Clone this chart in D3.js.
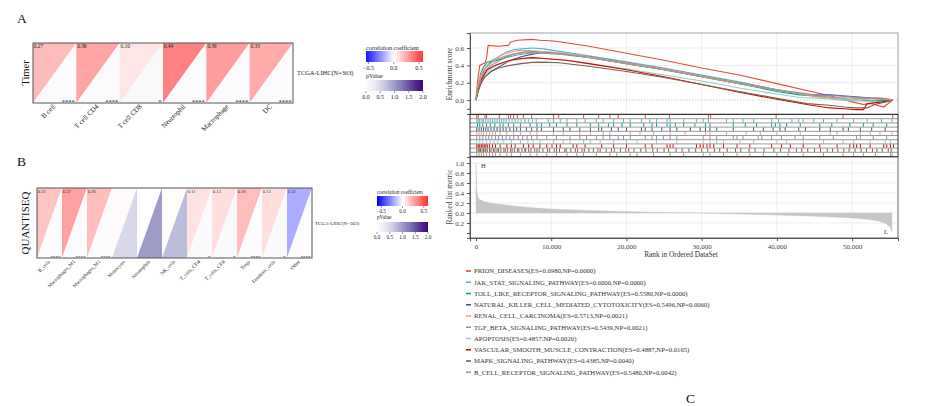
<!DOCTYPE html>
<html><head><meta charset="utf-8">
<script src="https://cdn.jsdelivr.net/npm/d3@7"></script>
<style>
body{margin:0;background:#fff}
svg{display:block}
text{font-family:"Liberation Serif","Times New Roman",serif}
</style>
</head><body>
<svg id="c" width="927" height="406"></svg>
<script>
// ---------- Panel A (TIMER) ----------
const timerCells = ["B cell","T cell CD4","T cell CD8","Neutrophil","Macrophage","DC"];
const timerCorr  = [0.27, 0.36, 0.10, 0.49, 0.39, 0.33];
const timerP     = [0.01, 0.01, 0.05, 0.01, 0.01, 0.01];
const timerStars = ["****","****","*","****","****","****"];

// ---------- Panel B (QUANTISEQ) ----------
const quantiCells = ["B_cells","Macrophages_M1","Macrophages_M2","Monocytes","Neutrophils","NK_cells","T_cells_CD4","T_cells_CD8","Tregs","Dendritic_cells","Other"];
const quantiCorr  = [0.23, 0.37, 0.26, 0.02, 0.00, 0.01, 0.11, 0.13, 0.26, 0.13, -0.32];
const quantiP     = [0.0, 0.0, 0.0, 0.5, 1.0, 0.75, 0.04, 0.03, 0.0, 0.03, 0.0];
const quantiStars = ["****","****","****","","","","*","*","****","*","****"];

const corrTicks = [-0.5, 0.0, 0.5];
const pTicks = [0.0, 0.5, 1.0, 1.5, 2.0];

// ---------- Panel C (GSEA) ----------
const pathways = ["PRION_DISEASES","JAK_STAT_SIGNALING_PATHWAY","TOLL_LIKE_RECEPTOR_SIGNALING_PATHWAY","NATURAL_KILLER_CELL_MEDIATED_CYTOTOXICITY","RENAL_CELL_CARCINOMA","TGF_BETA_SIGNALING_PATHWAY","APOPTOSIS","VASCULAR_SMOOTH_MUSCLE_CONTRACTION","MAPK_SIGNALING_PATHWAY","B_CELL_RECEPTOR_SIGNALING_PATHWAY"];
const pathwayES = [0.6980, 0.6000, 0.5580, 0.5496, 0.5713, 0.5439, 0.4857, 0.4887, 0.4385, 0.5480];
const pathwayNP = [0.0000, 0.0000, 0.0000, 0.0060, 0.0021, 0.0021, 0.0020, 0.0165, 0.0040, 0.0042];
const pathwayColors = ["#E64B35","#4DBBD5","#00A087","#3C5488","#F39B7F","#8491B4","#91D1C2","#DC0000","#7E6148","#B09C85"];

// running enrichment score: [rank (thousands), ES]
const esPrion = [[0,0],[0.1,0.12],[0.3,0.28],[0.5,0.4],[1.2,0.43],[1.4,0.48],[1.6,0.63],[3.0,0.62],[4.3,0.63],[4.6,0.67],[5.5,0.69],[7.4,0.70],[8.5,0.69],[10.3,0.68],[12,0.66],[15,0.62],[20,0.54],[25,0.46],[30,0.37],[35,0.29],[40,0.19],[44,0.11],[46,0.07],[48,0.03],[48.8,0.01],[50,-0.02],[51.5,-0.05],[52.5,-0.04],[54.2,-0.08],[55.4,0]];
const esJak = [[0,0],[0.2,0.15],[0.5,0.25],[1,0.33],[1.5,0.4],[2,0.45],[3,0.5],[4,0.55],[5,0.58],[6,0.59],[7.5,0.60],[9,0.59],[12,0.55],[15,0.51],[20,0.44],[25,0.37],[30,0.29],[35,0.21],[40,0.12],[45,0.05],[48,0.01],[50,-0.01],[52,0.0],[54,-0.02],[55.4,0]];
const esToll = [[0,0],[0.3,0.18],[0.6,0.3],[1,0.38],[1.5,0.44],[2.5,0.45],[3.5,0.48],[5,0.53],[6.5,0.555],[8,0.558],[10,0.545],[15,0.49],[20,0.42],[25,0.35],[30,0.27],[35,0.19],[40,0.1],[43,0.06],[45,0.05],[48,0.02],[50,0.0],[53,-0.01],[55.4,0]];
const esNk = [[0,0],[0.2,0.08],[0.5,0.17],[1,0.25],[2,0.33],[3,0.38],[4,0.43],[5,0.47],[6,0.5],[7.5,0.53],[9,0.55],[11,0.54],[15,0.5],[20,0.43],[25,0.36],[30,0.28],[35,0.2],[40,0.12],[44,0.06],[47,0.06],[50,0.04],[53,0.02],[55.4,0]];
const esRenal = [[0,0],[0.2,0.15],[0.5,0.26],[1,0.35],[2,0.43],[3,0.5],[4,0.54],[5.5,0.57],[7,0.571],[9,0.56],[12,0.54],[15,0.5],[20,0.43],[25,0.36],[30,0.28],[35,0.2],[40,0.12],[45,0.04],[48,0.02],[51,0.0],[53,0.03],[54.5,0.02],[55.4,0]];
const esTgf = [[0,0],[0.3,0.14],[0.7,0.25],[1.2,0.33],[2,0.4],[3,0.45],[4,0.49],[5.5,0.52],[7,0.54],[8.5,0.544],[11,0.53],[15,0.49],[20,0.42],[25,0.35],[30,0.27],[35,0.19],[40,0.12],[45,0.06],[48,0.05],[51,0.03],[54,0.02],[55.4,0]];
const esApop = [[0,0],[0.3,0.12],[0.7,0.22],[1.2,0.3],[2,0.36],[3,0.41],[4.5,0.45],[6,0.47],[7.5,0.486],[9,0.48],[12,0.46],[15,0.42],[20,0.36],[25,0.29],[30,0.22],[35,0.14],[40,0.07],[43,0.03],[46,0.02],[49,0.0],[52,-0.01],[54,-0.02],[55.4,0]];
const esVasc = [[0,0],[0.2,0.1],[0.5,0.2],[1,0.28],[1.5,0.35],[2.5,0.4],[3.5,0.43],[4.5,0.46],[6,0.48],[7.5,0.489],[9,0.48],[12,0.46],[15,0.42],[20,0.35],[25,0.27],[30,0.18],[35,0.09],[40,0.01],[44,-0.05],[47,-0.09],[49,-0.1],[50.5,-0.11],[51.5,-0.11],[52,-0.04],[54,-0.02],[55.4,0]];
const esMapk = [[0,0],[0.3,0.1],[0.7,0.2],[1.2,0.27],[2,0.33],[3,0.37],[4.5,0.4],[6,0.42],[7.5,0.435],[9,0.438],[11,0.43],[15,0.39],[20,0.33],[25,0.26],[30,0.18],[35,0.1],[40,0.02],[44,-0.04],[47,-0.06],[49,-0.08],[50.5,-0.09],[52,-0.09],[53,-0.05],[54.5,-0.02],[55.4,0]];
const esBcell = [[0,0],[0.3,0.15],[0.7,0.27],[1.2,0.36],[2,0.43],[3,0.48],[4,0.51],[5.5,0.54],[7,0.548],[9,0.545],[12,0.53],[15,0.49],[20,0.42],[25,0.35],[30,0.27],[35,0.19],[40,0.11],[45,0.05],[48,0.03],[51,0.02],[54,0.01],[55.4,0]];

// gene hit positions (rank, thousands)
const hitsPrion = [0.1,0.3,1.2,1.4,3.1,4.3,4.6,5.0,5.5,6.3,7.4,10.3,11.0,14.3,16.3,17.8,18.9,22.5,25.7,30.9,31.2,39.9,48.8,55.4];
const hitsJak = [0.1,0.3,0.5,0.8,1.0,1.3,1.6,1.9,2.2,2.5,2.8,3.1,3.4,3.7,4.0,4.4,4.8,5.2,5.6,6.0,6.5,7.0,7.5,8.0,9.6,10.3,11.2,12.1,13.4,14.5,16.0,16.9,18.3,19.6,20.5,22.0,23.1,24.0,25.4,25.8,27.6,29.3,30.2,30.9,33.3,34.2,35.5,36.9,39.3,40.2,42.0,42.9,43.5,44.9,46.2,48.0,50.2,52.0,53.9,55.3];
const hitsToll = [0.2,0.5,0.9,1.4,1.9,2.5,3.2,3.6,4.3,5.0,5.9,7.2,8.1,8.7,9.8,10.7,12.1,13.4,15.2,16.3,17.6,18.3,19.4,20.5,22.3,23.4,24.0,25.4,25.8,26.5,27.6,29.1,30.5,31.1,34.2,35.8,37.3,39.3,39.8,40.4,41.3,43.1,45.7,47.3,49.7,51.5,52.8,54.6];
const hitsNk = [0.1,0.4,0.7,1.0,1.3,1.6,2.0,2.4,2.8,3.2,3.6,4.0,4.5,5.0,5.4,5.9,6.7,7.4,8.1,8.7,10.3,11.6,12.5,13.8,15.2,16.3,16.7,18.0,18.9,20.0,22.0,22.5,23.4,24.7,25.8,26.7,28.5,29.8,30.5,31.1,32.0,34.2,36.9,38.2,39.5,40.4,41.1,42.9,43.8,45.7,47.1,48.8,49.5,51.1,52.6,54.4];
const hitsRenal = [0.1,0.4,0.7,1.0,1.4,1.8,2.2,2.6,3.2,4.1,5.0,5.9,7.2,8.1,10.3,11.6,13.8,15.2,16.9,17.8,20.5,21.8,23.6,25.8,27.8,30.5,31.1,33.3,35.9,37.8,40.0,43.1,47.1,48.0,51.1,52.4,53.7,55.3];
const hitsTgf = [0.1,0.5,0.9,1.3,1.7,2.1,2.6,3.0,3.5,4.0,4.5,5.0,5.6,6.2,6.8,7.4,8.1,9.4,10.7,12.5,13.8,14.7,16.0,16.9,17.8,18.9,19.6,20.5,22.5,23.4,24.0,24.9,25.8,26.7,30.2,31.1,32.0,34.2,34.7,35.5,37.5,38.0,39.3,40.6,42.4,43.5,45.7,47.5,50.6,51.1,52.8,54.6];
const hitsApop = [0.1,0.5,0.9,1.4,1.9,2.4,2.9,3.6,4.7,5.9,6.9,7.6,8.5,10.3,11.6,12.5,14.3,15.2,16.5,18.3,20.0,21.4,24.0,26.7,30.2,31.1,32.0,32.9,35.1,36.9,40.0,41.3,43.5,46.2,48.8,50.2,52.4,54.4,55.1];
const hitsVasc = [0.1,0.3,0.5,0.7,0.9,1.1,1.3,1.5,1.8,2.2,2.6,3.2,4.1,4.7,5.2,6.3,7.0,7.6,8.5,9.4,10.1,10.7,11.2,12.9,13.4,14.5,16.7,18.3,20.0,22.5,23.4,25.4,25.8,26.2,29.3,29.8,30.2,30.7,31.1,31.6,32.9,34.7,36.4,39.3,40.6,41.8,43.5,45.7,48.0,49.7,50.2,50.6,51.1,52.4,54.2,54.6,55.1,55.5];
const hitsMapk = [0.1,0.3,0.5,0.6,0.8,1.0,1.2,1.3,1.5,1.8,2.0,2.3,2.5,2.8,3.0,3.3,3.7,3.9,4.2,4.6,4.8,5.1,5.5,5.7,6.1,6.5,6.6,7.0,7.3,7.8,8.1,8.4,8.9,9.5,9.8,10.4,10.7,11.1,11.8,12.0,12.6,13.2,13.5,14.1,14.4,15.0,15.6,16.2,16.5,17.3,18.0,18.4,19.2,19.9,20.3,21.0,21.9,22.6,23.5,24.1,25.0,25.6,26.6,27.4,28.3,29.2,30.0,30.8,31.7,32.4,33.4,34.5,35.2,36.3,37.1,38.3,39.6,40.5,41.6,42.6,43.3,44.1,45.0,45.8,46.7,47.4,48.1,48.9,49.6,50.4,51.2,51.9,52.7,53.3,54.0,54.8,55.2];
const hitsBcell = [0.1,0.4,0.7,1.0,1.4,1.8,2.2,2.6,3.2,4.1,4.7,5.9,7.2,8.1,9.4,10.7,12.1,13.4,14.3,16.0,17.8,18.7,20.5,21.4,23.6,25.8,27.6,30.2,31.1,32.9,34.7,36.4,38.2,40.0,41.5,43.5,46.2,48.8,50.2,51.5,53.1,55.1,55.3];

// ranked list metric: [rank (thousands), metric]
const rankedMetric = [[0,1.0],[0.05,0.6],[0.15,0.4],[0.3,0.3],[0.6,0.26],[1.2,0.22],[2.3,0.19],[4.5,0.15],[7,0.11],[10,0.08],[15,0.05],[20,0.03],[25,0.012],[30,0],[35,-0.02],[40,-0.04],[45,-0.065],[50,-0.1],[52,-0.125],[53.5,-0.16],[54.5,-0.21],[55,-0.27],[55.3,-0.37]];

const rankTicks = [0, 10000, 20000, 30000, 40000, 50000];
const esTicks = [-0.1, 0.0, 0.2, 0.4, 0.6];
const metricTicks = [-0.4, -0.2, 0.0, 0.2, 0.4, 0.6, 0.8, 1.0];

const esSeries = [esPrion, esJak, esToll, esNk, esRenal, esTgf, esApop, esVasc, esMapk, esBcell];
const hitSeries = [hitsPrion, hitsJak, hitsToll, hitsNk, hitsRenal, hitsTgf, hitsApop, hitsVasc, hitsMapk, hitsBcell];

// ================= drawing =================
const svg = d3.select("#c");
svg.append("rect").attr("width",927).attr("height",406).attr("fill","#fff");

const cellColor = d3.scaleLinear().domain([-1,0,1]).range(["#0000ff","#ffffff","#ff0000"]).clamp(true);
const legColor = d3.scaleLinear().domain([-0.6,0,0.6]).range(["#0000ff","#ffffff","#ff2e2e"]).clamp(true);
const pColor = v => d3.interpolatePurples(Math.max(0, Math.min(1, v/2)));

let gradId = 0;
function gradient(fn, lo, hi) {
  const id = "g" + (gradId++);
  const lg = svg.append("defs").append("linearGradient").attr("id", id).attr("x1","0%").attr("x2","100%");
  d3.range(0, 1.0001, 0.05).forEach(t => lg.append("stop").attr("offset", (t*100)+"%").attr("stop-color", fn(lo + (hi-lo)*t)));
  return "url(#" + id + ")";
}

function heatPanel(o) {
  const g = svg.append("g");
  const x = d3.scaleBand().domain(o.cells).range([o.x0, o.x1]);
  const top = o.y0, bot = o.y1;
  o.cells.forEach((c, i) => {
    const a = x(c), b = a + x.bandwidth();
    g.append("polygon").attr("points", `${a},${top} ${b},${top} ${a},${bot}`).attr("fill", cellColor(o.corr[i]));
    g.append("polygon").attr("points", `${b},${top} ${b},${bot} ${a},${bot}`).attr("fill", pColor(o.p[i]));
    if (o.stars[i]) {
      g.append("text").attr("x", a + 0.8).attr("y", top + o.valSize).attr("font-size", o.valSize).attr("fill","#222")
        .text(Math.abs(o.corr[i]).toFixed(2));
      g.append("text").attr("x", b - 1.5).attr("y", bot + 0.6).attr("text-anchor","end").attr("font-size", o.starSize).attr("fill","#222").text(o.stars[i]);
    }
    g.append("text").attr("transform", `translate(${a + x.bandwidth()/2 + 1},${bot + o.labOff}) rotate(-45)`)
      .attr("text-anchor","end").attr("font-size", o.labSize).attr("fill","#222").text(c);
  });
  g.append("rect").attr("x", o.x0).attr("y", top).attr("width", o.x1 - o.x0).attr("height", bot - top)
    .attr("fill","none").attr("stroke","#555").attr("stroke-width",1);
  g.append("text").attr("x", o.x1 + o.rowGap).attr("y", (top+bot)/2 + o.rowDy).attr("font-size", o.rowSize).attr("fill","#222").text("TCGA-LIHC(N=363)");
  g.append("text").attr("transform", `translate(${o.titleX},${(top+bot)/2}) rotate(-90)`).attr("text-anchor","middle")
    .attr("font-size", o.titleSize).attr("fill","#111").text(o.title);
  g.append("text").attr("x", 17).attr("y", o.letterY).attr("font-size", 13.5).attr("fill","#111").text(o.letter);

  // legends
  const L = o.leg;
  const cs = d3.scaleLinear().domain(L.cDom).range([L.x0, L.x1]);
  g.append("text").attr("x", L.x0).attr("y", L.cTitleY).attr("font-size", L.fs).attr("fill","#222").text("correlation coefficient");
  g.append("rect").attr("x", L.x0).attr("y", L.cBarY).attr("width", L.x1-L.x0).attr("height", L.barH).attr("fill", gradient(legColor, L.cDom[0], L.cDom[1]));
  corrTicks.forEach(t => {
    g.append("line").attr("x1", cs(t)).attr("x2", cs(t)).attr("y1", L.cBarY + L.barH).attr("y2", L.cBarY + L.barH + 2).attr("stroke","#333").attr("stroke-width",0.5);
    g.append("text").attr("x", cs(t)).attr("y", L.cBarY + L.barH + 2 + L.fs).attr("text-anchor","middle").attr("font-size", L.fs).attr("fill","#222").text(t === -0.5 ? "\u22120.5" : t.toFixed(1));
  });
  const ps = d3.scaleLinear().domain([0,2]).range([L.x0, L.x1]);
  g.append("text").attr("x", L.x0).attr("y", L.pTitleY).attr("font-size", L.fs).attr("fill","#222").text("pValue");
  g.append("rect").attr("x", L.x0).attr("y", L.pBarY).attr("width", L.x1-L.x0).attr("height", L.barH).attr("fill", gradient(pColor, 0, 2));
  pTicks.forEach(t => {
    g.append("line").attr("x1", ps(t)).attr("x2", ps(t)).attr("y1", L.pBarY + L.barH).attr("y2", L.pBarY + L.barH + 2).attr("stroke","#333").attr("stroke-width",0.5);
    g.append("text").attr("x", ps(t)).attr("y", L.pBarY + L.barH + 2 + L.fs).attr("text-anchor","middle").attr("font-size", L.fs).attr("fill","#222").text(t.toFixed(1));
  });
}

heatPanel({cells: timerCells, corr: timerCorr, p: timerP, stars: timerStars,
  x0: 33, x1: 293, y0: 43, y1: 103, valSize: 5.4, starSize: 6.5, labSize: 7, labOff: 4,
  rowGap: 4, rowDy: 2, rowSize: 6.4, title: "Timer", titleX: 29, titleSize: 10.5, letter: "A", letterY: 23,
  leg: {x0: 366, x1: 423, cDom: [-0.55, 0.58], fs: 6, cTitleY: 49.5, cBarY: 51, barH: 11, pTitleY: 78, pBarY: 80}});

heatPanel({cells: quantiCells, corr: quantiCorr, p: quantiP, stars: quantiStars,
  x0: 37, x1: 312, y0: 188, y1: 258, valSize: 4.5, starSize: 5, labSize: 5, labOff: 4,
  rowGap: 3, rowDy: 2, rowSize: 5, title: "QUANTISEQ", titleX: 29, titleSize: 11, letter: "B", letterY: 166,
  leg: {x0: 377, x1: 428, cDom: [-0.6, 0.6], fs: 5.2, cTitleY: 194, cBarY: 196, barH: 10, pTitleY: 219, pBarY: 222}});

// ---------- GSEA ----------
const G = svg.append("g");
const rx = d3.scaleLinear().domain([-800, 56100]).range([470, 898]);
const esY = d3.scaleLinear().domain([-0.16, 0.773]).range([114, 33]);
const mY = d3.scaleLinear().domain([-0.5, 1.12]).range([238, 157]);
const gridC = "#e6e6e6";

// enrichment grid
rankTicks.slice(1).forEach(t => G.append("line").attr("x1", rx(t)).attr("x2", rx(t)).attr("y1", 33).attr("y2", 114).attr("stroke", gridC).attr("stroke-width", 0.7));
esTicks.filter(t => t > 0).forEach(t => G.append("line").attr("x1", 470).attr("x2", 898).attr("y1", esY(t)).attr("y2", esY(t)).attr("stroke", gridC).attr("stroke-width", 0.7));
G.append("line").attr("x1", 470).attr("x2", 898).attr("y1", esY(0)).attr("y2", esY(0)).attr("stroke", "#aaa").attr("stroke-width", 0.6).attr("stroke-dasharray","1.5,1.5");

const line = d3.line().x(d => rx(d[0]*1000)).y(d => esY(d[1]));
esSeries.forEach((s, i) => {
  G.append("path").attr("d", line(s)).attr("fill","none").attr("stroke", pathwayColors[i]).attr("stroke-width", 1.1);
});
G.append("rect").attr("x",470).attr("y",33).attr("width",428).attr("height",81).attr("fill","none").attr("stroke","#888").attr("stroke-width",0.8);

const esAxis = G.append("g").attr("transform","translate(470,0)")
  .call(d3.axisLeft(esY).tickValues(esTicks).tickSize(3).tickFormat(d => d < 0 ? "" : d3.format(".1f")(d)));
esAxis.select(".domain").attr("stroke","#555");
esAxis.selectAll("line").attr("stroke","#555");
esAxis.selectAll("text").attr("font-size",7).attr("fill","#444").attr("font-family","Liberation Serif, serif");
G.append("text").attr("transform","translate(452,74) rotate(-90)").attr("text-anchor","middle").attr("font-size",7.5).attr("fill","#444").text("Enrichment score");

// hits
const hTop = 114.5, hBot = 156.5, rowH = (hBot - hTop) / 10;
hitSeries.forEach((hs, i) => {
  const y0 = hTop + i*rowH;
  hs.forEach(r => {
    G.append("line").attr("x1", rx(r*1000)).attr("x2", rx(r*1000)).attr("y1", y0 + 0.4).attr("y2", y0 + rowH - 0.4)
      .attr("stroke", pathwayColors[i]).attr("stroke-width", 1);
  });
});
d3.range(1, 10).forEach(i => G.append("line").attr("x1",470).attr("x2",898).attr("y1",hTop + i*rowH).attr("y2",hTop + i*rowH).attr("stroke","#555").attr("stroke-width",0.6));
G.append("rect").attr("x",470).attr("y",hTop).attr("width",428).attr("height",hBot-hTop).attr("fill","none").attr("stroke","#333").attr("stroke-width",1);

// ranked list
rankTicks.slice(1).forEach(t => G.append("line").attr("x1", rx(t)).attr("x2", rx(t)).attr("y1", 157).attr("y2", 238).attr("stroke", gridC).attr("stroke-width", 0.7));
metricTicks.filter(t => t > -0.3).forEach(t => G.append("line").attr("x1", 470).attr("x2", 898).attr("y1", mY(t)).attr("y2", mY(t)).attr("stroke", gridC).attr("stroke-width", 0.7));
const area = d3.area().x(d => rx(d[0]*1000)).y0(mY(0)).y1(d => mY(d[1]));
G.append("path").attr("d", area(rankedMetric)).attr("fill","#c6c6c6").attr("stroke","#c6c6c6").attr("stroke-width",0.4);
G.append("rect").attr("x",470).attr("y",157).attr("width",428).attr("height",81).attr("fill","none").attr("stroke","#555").attr("stroke-width",0.9);
G.append("text").attr("x",481).attr("y",168).attr("font-size",6.5).attr("fill","#333").text("H");
G.append("text").attr("x",884).attr("y",234).attr("font-size",6.5).attr("fill","#333").text("L");

const mAxis = G.append("g").attr("transform","translate(470,0)")
  .call(d3.axisLeft(mY).tickValues(metricTicks).tickSize(3).tickFormat(d => d < -0.3 ? "" : (d < 0 ? "\u2212" + d3.format(".1f")(-d) : d3.format(".1f")(d))));
mAxis.select(".domain").attr("stroke","#555");
mAxis.selectAll("line").attr("stroke","#555");
mAxis.selectAll("text").attr("font-size",7).attr("fill","#444").attr("font-family","Liberation Serif, serif");
G.append("text").attr("transform","translate(452,197) rotate(-90)").attr("text-anchor","middle").attr("font-size",7.5).attr("fill","#444").text("Ranked list metric");

const xAxis = G.append("g").attr("transform","translate(0,238)")
  .call(d3.axisBottom(rx).tickValues(rankTicks).tickSize(3).tickFormat(d3.format(",")));
xAxis.select(".domain").attr("stroke","#555");
xAxis.selectAll("line").attr("stroke","#555");
xAxis.selectAll("text").attr("font-size",7).attr("fill","#444").attr("font-family","Liberation Serif, serif");
G.append("text").attr("x",681).attr("y",257).attr("text-anchor","middle").attr("font-size",7.3).attr("fill","#333").text("Rank in Ordered DataSet");

// legend list
pathways.forEach((p, i) => {
  const y = 271 + i*11.25;
  G.append("line").attr("x1",466).attr("x2",471).attr("y1",y).attr("y2",y).attr("stroke",pathwayColors[i]).attr("stroke-width",1.6);
  G.append("text").attr("x",474).attr("y",y + 2.3).attr("font-size",6.7).attr("fill","#333")
    .text(`${p}(ES=${pathwayES[i].toFixed(4)},NP=${pathwayNP[i].toFixed(4)})`);
});

svg.append("text").attr("x",686).attr("y",403).attr("font-size",13.5).attr("fill","#111").text("C");
</script>
</body></html>
